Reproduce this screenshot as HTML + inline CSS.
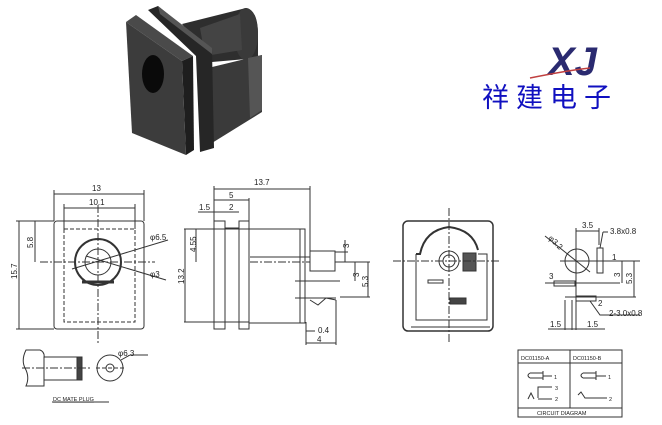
<!DOCTYPE html>
<html><head><meta charset="utf-8"><style>
html,body{margin:0;padding:0;background:#fff;}
svg{display:block;}
text{font-family:"Liberation Sans",sans-serif;fill:#222;}
</style></head><body>
<svg width="662" height="425" viewBox="0 0 662 425" xmlns="http://www.w3.org/2000/svg">
<!-- photo -->
<g>
<path d="M182,24 L246,8 Q258,10 258,35 L258,58 L212,62 Z" fill="#2e2e2e"/>
<ellipse cx="246" cy="34" rx="12" ry="26" fill="#3a3a3a"/>
<path d="M200,28 L240,14 L242,50 L205,56 Z" fill="#444"/>
<path d="M208,68 L262,55 L262,112 L212,143 Z" fill="#3a3a3a"/>
<path d="M248,58 L262,55 L262,110 L250,118 Z" fill="#555"/>
<path d="M148,10 L158,6 L212,50 L214,148 L200,152 L196,56 Z" fill="#262626"/>
<path d="M158,6 L212,48 L212,54 L160,14 Z" fill="#555"/>
<path d="M126,22 L136,15 L193,56 L182,61 Z" fill="#4a4a4a"/>
<path d="M182,61 L193,56 L194,150 L186,155 Z" fill="#1e1e1e"/>
<path d="M126,22 L182,61 L186,155 L132,133 Z" fill="#3c3c3c"/>
<ellipse cx="153" cy="74" rx="11" ry="19" fill="#0a0a0a"/>
</g>
<!-- logo -->
<text x="548" y="75" font-family="Liberation Serif,serif" font-style="italic" font-weight="bold" font-size="40" style="fill:#2a2a70">XJ</text>
<path d="M530,78 Q570,70 590,68" stroke="#c04040" stroke-width="1.5" fill="none"/>
<text x="482" y="107" font-family="Liberation Sans,'Noto Sans CJK SC',sans-serif" font-size="27" letter-spacing="7" style="fill:#1010c0">祥建电子</text>

<g stroke="#333" fill="none" stroke-width="1">
<rect x="54" y="221" width="90" height="108" rx="3"/>
<rect x="64" y="229" width="71" height="93" stroke-dasharray="4,2"/>
<circle cx="98" cy="262" r="23" stroke-width="2"/>
<circle cx="98" cy="262" r="13"/>
<line x1="82" y1="282" x2="114" y2="282" stroke-width="3"/>
<line x1="40" y1="262" x2="155" y2="262" stroke-dasharray="8,2,2,2"/>
<line x1="98" y1="205" x2="98" y2="345" stroke-dasharray="8,2,2,2"/>
<line x1="54" y1="190" x2="54" y2="221"/><line x1="144" y1="190" x2="144" y2="221"/>
<line x1="54" y1="194" x2="144" y2="194"/>
<line x1="64" y1="204" x2="64" y2="229"/><line x1="135" y1="204" x2="135" y2="229"/>
<line x1="64" y1="208" x2="135" y2="208"/>
<line x1="16" y1="221" x2="54" y2="221"/><line x1="16" y1="329" x2="54" y2="329"/>
<line x1="19" y1="221" x2="19" y2="329"/>
<line x1="35" y1="221" x2="35" y2="262"/>
<line x1="72" y1="269" x2="168" y2="240"/>
<line x1="86" y1="256" x2="166" y2="280"/>
<rect x="214" y="221" width="11" height="108"/>
<rect x="239" y="221" width="10" height="108"/>
<line x1="225" y1="228" x2="239" y2="228"/><line x1="225" y1="322" x2="239" y2="322"/>
<rect x="249" y="229" width="56" height="94"/>
<line x1="300" y1="229" x2="300" y2="323"/>
<rect x="310" y="251" width="25" height="20"/>
<line x1="250" y1="257" x2="310" y2="257"/><line x1="250" y1="262" x2="310" y2="262" stroke-dasharray="8,2,2,2"/>
<line x1="295" y1="281" x2="340" y2="281"/><line x1="295" y1="298" x2="336" y2="298"/>
<path d="M310,300 L318,305 L326,298 L336,300" />
<line x1="214" y1="186" x2="214" y2="221"/><line x1="310" y1="186" x2="310" y2="252"/>
<line x1="214" y1="189" x2="310" y2="189"/>
<line x1="249" y1="198" x2="249" y2="221"/><line x1="214" y1="200" x2="249" y2="200"/>
<line x1="198" y1="212" x2="239" y2="212"/>
<line x1="184" y1="229" x2="249" y2="229"/><line x1="184" y1="322" x2="249" y2="322"/>
<line x1="185" y1="229" x2="185" y2="322"/>
<line x1="196" y1="229" x2="196" y2="262"/>
<line x1="335" y1="252" x2="348" y2="252"/><line x1="335" y1="262" x2="370" y2="262"/>
<line x1="345" y1="240" x2="345" y2="262"/><line x1="355" y1="262" x2="355" y2="281"/>
<line x1="340" y1="297" x2="370" y2="297"/><line x1="368" y1="262" x2="368" y2="297"/>
<line x1="306" y1="322" x2="306" y2="345"/><line x1="336" y1="300" x2="336" y2="345"/>
<line x1="306" y1="331" x2="315" y2="331"/><line x1="306" y1="343" x2="336" y2="343"/>
<rect x="403" y="221" width="90" height="110" rx="5" stroke-width="1.5"/>
<path d="M416,254 L416,320 L487,320 L487,254 L478,254" />
<line x1="411" y1="327" x2="490" y2="327"/>
<path d="M416,254 L420,254 Q425,230 449,227 Q473,230 478,250" stroke-width="2"/>
<circle cx="449" cy="261" r="10"/><circle cx="449" cy="261" r="6"/>
<rect x="463" y="253" width="13" height="18" fill="#555"/>
<rect x="428" y="280" width="15" height="3"/>
<rect x="450" y="298" width="16" height="6" fill="#444"/>
<line x1="393" y1="261" x2="500" y2="261" stroke-dasharray="8,2,2,2"/>
<line x1="449" y1="208" x2="449" y2="342" stroke-dasharray="8,2,2,2"/>
<circle cx="577" cy="261" r="12"/>
<line x1="545" y1="236" x2="590" y2="272"/>
<line x1="560" y1="261" x2="640" y2="261"/>
<line x1="576" y1="228" x2="576" y2="330"/>
<line x1="599" y1="228" x2="599" y2="245"/><line x1="576" y1="231" x2="599" y2="231"/>
<rect x="597" y="248" width="6" height="25"/>
<line x1="603" y1="232" x2="608" y2="232"/><line x1="603" y1="232" x2="600" y2="248"/>
<rect x="554" y="281" width="21" height="5"/>
<line x1="545" y1="283" x2="620" y2="283"/>
<rect x="576" y="296" width="20" height="5"/>
<line x1="565" y1="297" x2="636" y2="297"/>
<line x1="604" y1="261" x2="636" y2="261"/>
<line x1="622" y1="261" x2="622" y2="283"/><line x1="634" y1="261" x2="634" y2="297"/>
<path d="M590,301 L600,315 L640,315"/>
<line x1="565" y1="300" x2="565" y2="330"/><line x1="572" y1="300" x2="572" y2="330"/>
<line x1="548" y1="329" x2="605" y2="329"/>
<path d="M26,350 L40,350 Q45,352 44,358 L44,386 L26,386 Q30,377 25,368 Q21,360 26,350Z"/>
<rect x="44" y="357" width="38" height="23"/>
<rect x="77" y="357" width="5" height="23" fill="#444"/>
<line x1="22" y1="368" x2="90" y2="368" stroke-dasharray="8,2,2,2"/>
<circle cx="110" cy="368" r="13"/><circle cx="110" cy="368" r="4"/>
<line x1="96" y1="368" x2="126" y2="368" stroke-dasharray="4,2"/>
<line x1="121" y1="360" x2="130" y2="355"/><line x1="130" y1="355" x2="148" y2="355"/>
<line x1="52" y1="402" x2="109" y2="402"/>
<rect x="518" y="350" width="104" height="67"/>
<line x1="570" y1="350" x2="570" y2="408"/>
<line x1="518" y1="363" x2="622" y2="363"/>
<line x1="518" y1="408" x2="622" y2="408"/>
<path d="M530,373 L543,373 M530,378 L543,378 M530,373 Q526,375.5 530,378 M543,371 L543,380 M543,376 L552,376"/>
<path d="M583,373 L596,373 M583,378 L596,378 M583,373 Q579,375.5 583,378 M596,371 L596,380 M596,376 L606,376"/>
<path d="M528,399 L531,393 L534,399 M538,398 L538,387 L552,387 M538,399 L552,399"/>
<path d="M578,395 L581,392 L585,398 L607,398"/>
</g>
<g font-size="8">
<text x="92" y="191">13</text><text x="89" y="205">10.1</text>
<text x="10" y="278" transform="rotate(-90 14 275)">15.7</text>
<text x="24" y="245" transform="rotate(-90 30 242)">5.8</text>
<text x="150" y="240">φ6.5</text><text x="150" y="277">φ3</text>
<text x="254" y="185">13.7</text><text x="229" y="198">5</text>
<text x="199" y="210">1.5</text><text x="229" y="210">2</text>
<text x="186" y="250" transform="rotate(-90 192 246)">4.55</text>
<text x="172" y="280" transform="rotate(-90 180 276)">13.2</text>
<text x="343" y="248" transform="rotate(-90 346 245)">3</text>
<text x="352" y="276" transform="rotate(-90 356 273)">3</text>
<text x="357" y="284" transform="rotate(-90 364 280)">5.3</text>
<text x="318" y="333">0.4</text><text x="317" y="342">4</text>
<text x="549" y="244" transform="rotate(45 555 240)">φ3.2</text>
<text x="582" y="228">3.5</text><text x="610" y="234">3.8x0.8</text>
<text x="612" y="260">1</text><text x="549" y="279">3</text><text x="598" y="306">2</text>
<text x="609" y="316">2-3.0x0.8</text>
<text x="611" y="276" transform="rotate(-90 616 272)">3</text>
<text x="622" y="282" transform="rotate(-90 628 278)">5.3</text>
<text x="550" y="327">1.5</text><text x="587" y="327">1.5</text>
<text x="118" y="356">φ6.3</text>
</g>
<g font-size="5.5">
<text x="53" y="401" text-decoration="underline">DC MATE PLUG</text>
<text x="521" y="360">DC01150-A</text><text x="573" y="360">DC01150-B</text>
<text x="554" y="379">1</text><text x="608" y="379">1</text>
<text x="555" y="390">3</text><text x="555" y="401">2</text><text x="609" y="401">2</text>
<text x="537" y="415">CIRCUIT DIAGRAM</text>
</g>
</svg>
</body></html>
